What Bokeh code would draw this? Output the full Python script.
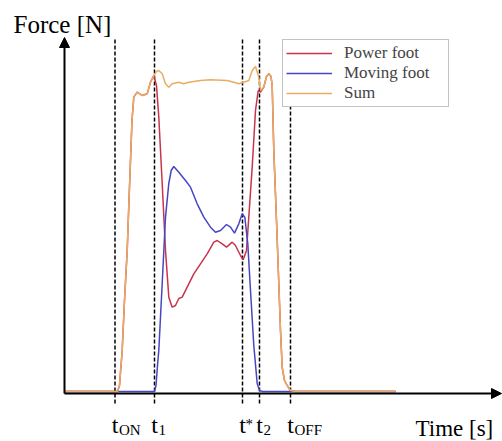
from bokeh.plotting import figure
from bokeh.models import (Range1d, Arrow, NormalHead, Label, LabelSet, Legend, LegendItem,
                          ColumnDataSource)
from bokeh.embed import file_html
from bokeh.resources import INLINE

# ---- data (time in s, force in N) ----
sum_t = [0.00, 0.53, 0.55, 0.577, 0.60, 0.627, 0.645, 0.66, 0.675, 0.693, 0.727, 0.777, 0.827,
         0.86, 0.893, 0.92, 0.943, 0.977, 1.01, 1.043, 1.077, 1.143, 1.193, 1.243, 1.36, 1.46,
         1.627, 1.693, 1.743, 1.793, 1.843, 1.877, 1.91, 1.943, 1.96, 1.993, 2.02, 2.043, 2.065,
         2.077, 2.093, 2.12, 2.143, 2.16, 2.177, 2.20, 2.227, 2.26, 2.31, 3.31]
sum_f = [0, 0, 18, 123, 273, 423, 573, 693, 813, 883, 898, 888, 893,
         928, 948, 960, 963, 953, 923, 913, 923, 928, 923, 928, 933, 935,
         933, 928, 923, 928, 933, 963, 975, 943, 903, 913, 945, 953, 945,
         918, 723, 513, 324, 183, 72, 33, 18, 3, 0, 0]

power_t = [0.00, 0.53, 0.55, 0.577, 0.60, 0.627, 0.645, 0.66, 0.675, 0.693, 0.727, 0.777, 0.827,
           0.86, 0.893, 0.92, 0.943, 0.977, 1.01, 1.043, 1.077, 1.11, 1.143, 1.177, 1.227, 1.293,
           1.36, 1.427, 1.493, 1.527, 1.577, 1.62, 1.677, 1.71, 1.76, 1.787, 1.82, 1.843, 1.877,
           1.91, 1.937, 1.96, 1.993, 2.02, 2.043, 2.065, 2.077, 2.093, 2.12, 2.143, 2.16, 2.177,
           2.20, 2.227, 2.26, 2.31, 3.31]
power_f = [0, 0, 18, 123, 273, 423, 573, 693, 813, 883, 898, 888, 893,
           928, 948, 918, 823, 624, 423, 283, 253, 258, 279, 283, 313, 353,
           383, 413, 448, 453, 443, 433, 448, 438, 408, 395, 423, 523, 673,
           843, 903, 898, 913, 945, 953, 945, 918, 723, 513, 324, 183, 72,
           33, 18, 3, 0, 0]

moving_t = [0.00, 0.90, 0.915, 0.93, 0.943, 0.977, 1.01, 1.043, 1.067, 1.093, 1.143, 1.21, 1.26,
            1.327, 1.393, 1.46, 1.51, 1.56, 1.62, 1.66, 1.70, 1.743, 1.777, 1.803, 1.833, 1.86,
            1.893, 1.927, 1.95, 1.98, 3.31]
moving_f = [0, 0, 18, 78, 123, 324, 523, 624, 663, 675, 658, 633, 613,
            563, 523, 493, 478, 483, 501, 493, 475, 503, 533, 523, 443, 303,
            138, 24, 3, 0, 0]

marker_t = [0.505, 0.90, 1.78, 1.95, 2.26]
marker_sub = ["ON", "1", "", "2", "OFF"]
marker_sup = ["", "", "*", "", ""]

series_names = ["Power foot", "Moving foot", "Sum"]
series_colors = ["#c8344c", "#4646c4", "#e9ad62"]

FONT = "Liberation Serif"
N_PER_PX = 3.0  # force units per screen pixel (from the y range below)

p = figure(width=502, height=441, output_backend="svg", toolbar_location=None,
           x_range=Range1d(-0.64, 4.38), y_range=Range1d(-150, 1173),
           min_border=0)
p.axis.visible = False
p.grid.visible = False
p.outline_line_color = None
p.background_fill_color = "white"
p.border_fill_color = "white"

# vertical dashed event lines
n = len(marker_t)
p.segment(x0=marker_t, x1=marker_t, y0=[-12 * N_PER_PX] * n, y1=[353 * N_PER_PX] * n,
          line_color="black", line_width=1.5, line_dash="4 2")

# curves
r_power = p.line(power_t, power_f, line_color=series_colors[0], line_width=1.5)
r_moving = p.line(moving_t, moving_f, line_color=series_colors[1], line_width=1.5)
r_sum = p.line(sum_t, sum_f, line_color=series_colors[2], line_width=1.5)

# axes as arrows
p.add_layout(Arrow(end=NormalHead(size=10, fill_color="black", line_color="black"),
                   x_start=0, y_start=-2 * N_PER_PX, x_end=4.37, y_end=-2 * N_PER_PX,
                   line_width=2))
p.add_layout(Arrow(end=NormalHead(size=10, fill_color="black", line_color="black"),
                   x_start=0, y_start=-2 * N_PER_PX, x_end=0, y_end=354 * N_PER_PX,
                   line_width=2))

# event labels (t with sub/superscripts), placed below the time axis
src = ColumnDataSource(dict(t=marker_t,
                            yb=[-41 * N_PER_PX] * n,
                            ys=[-43 * N_PER_PX] * n,
                            yp=[-37 * N_PER_PX] * n,
                            sub=marker_sub, sup=marker_sup, base=["t"] * n))
p.add_layout(LabelSet(x="t", y="yb", text="base", source=src, text_font=FONT,
                      text_font_size="24px", text_align="center",
                      text_baseline="alphabetic", text_color="black"))
p.add_layout(LabelSet(x="t", y="ys", text="sub", source=src, text_font=FONT,
                      text_font_size="15px", text_align="left", x_offset=4,
                      text_baseline="alphabetic", text_color="black"))
p.add_layout(LabelSet(x="t", y="yp", text="sup", source=src, text_font=FONT,
                      text_font_size="15px", text_align="left", x_offset=3,
                      text_baseline="alphabetic", text_color="black"))

# axis titles
p.add_layout(Label(x=13, y=417, x_units="screen", y_units="screen", text="Force [N]",
                   text_font=FONT, text_font_size="25px", text_baseline="alphabetic",
                   text_color="black"))
p.add_layout(Label(x=415, y=13, x_units="screen", y_units="screen", text="Time [s]",
                   text_font=FONT, text_font_size="23px", text_baseline="alphabetic",
                   text_color="black"))

legend = Legend(items=[LegendItem(label=series_names[0], renderers=[r_power]),
                       LegendItem(label=series_names[1], renderers=[r_moving]),
                       LegendItem(label=series_names[2], renderers=[r_sum])],
                location=(282, 334), label_text_font=FONT, label_text_font_size="17px",
                glyph_width=46, glyph_height=18, label_height=18, label_width=101,
                spacing=0, padding=3,
                label_standoff=12, margin=0, border_line_color="#888888", border_line_width=1,
                background_fill_color="white", background_fill_alpha=1.0)
p.add_layout(legend)

open("out.html", "w").write(file_html(p, INLINE))
